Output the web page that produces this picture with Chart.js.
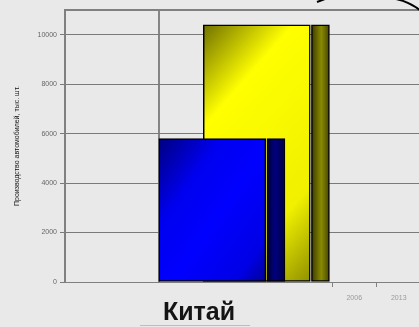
<!DOCTYPE html>
<html>
<head>
<meta charset="utf-8">
<script src="https://cdn.jsdelivr.net/npm/chart.js@4"></script>
<style>
  html, body { margin: 0; padding: 0; background: #e9e9e9; overflow: hidden; }
  #wrap { position: relative; width: 425px; height: 327px; }
  #title {
    position: absolute; left: 140px; top: 299px; width: 102px; padding-left: 8px;
    text-align: center; font: bold 25px/25px "Liberation Sans", Arial, sans-serif;
    color: #151515; border-bottom: 1px solid #bdbdbd; padding-bottom: 1px;
  }
  #deco { position: absolute; left: 0; top: 0; }
</style>
</head>
<body>
<div id="wrap">
  <canvas id="chart" width="425" height="327"></canvas>
  <div id="title">Китай</div>
  <svg id="deco" width="425" height="327">
    <path d="M317,2 L325,-1" stroke="#000" stroke-width="2" fill="none"/>
    <path d="M396,-1 Q410,2 421,11" stroke="#000" stroke-width="2" fill="none"/>
  </svg>
</div>
<script>
// Производство автомобилей в Китае, тыс. шт.
const years = ['2006', '2013'];
const production = [5800, 10400];
const yTicks = [0, 2000, 4000, 6000, 8000, 10000];
const emptySlots = 6;

const labels = Array(emptySlots).fill('').concat(years);

// bars sit shifted to the left of their year slot, as in the original picture
const barShift = 3.19;
const sideShift = 1.43;
const slot = i => emptySlots + i + 0.5 - barShift;

// gradient direction + colour stops for each bar face
const frontFill = [
  { dir: [0.82, 0.57], stops: [[0, '#000080'], [0.3, '#0000f0'], [0.55, '#0000ff'], [0.85, '#0000e6'], [1, '#00009a']] },
  { dir: [0.75, 0.66], stops: [[0, '#707000'], [0.27, '#ffff00'], [0.75, '#f0f000'], [1, '#909000']] }
];
const sideFill = [
  { dir: [1, 0], stops: [[0, '#000030'], [0.45, '#000080'], [1, '#000040']] },
  { dir: [1, 0], stops: [[0, '#3a3a00'], [0.55, '#8a8a00'], [1, '#454500']] }
];

function gradient(fill) {
  return function (c) {
    const chart = c.chart;
    if (!chart.chartArea || !c.raw) return fill.stops[1][1];
    const xs = chart.scales.xb, ys = chart.scales.y;
    const w = c.dataset.barThickness;
    const x0 = xs.getPixelForValue(c.raw.x) - w / 2;
    const y0 = ys.getPixelForValue(c.raw.y);
    const h = ys.getPixelForValue(0) - y0;
    const [ux, uy] = fill.dir;
    const len = w * ux + h * uy;
    const g = chart.ctx.createLinearGradient(x0, y0, x0 + len * ux, y0 + len * uy);
    fill.stops.forEach(s => g.addColorStop(s[0], s[1]));
    return g;
  };
}

const datasets = [];
years.forEach((y, i) => {
  datasets.push({
    label: y,
    xAxisID: 'xb',
    grouped: false,
    data: [{ x: slot(i), y: production[i] }],
    barThickness: 107,
    backgroundColor: gradient(frontFill[i]),
    borderColor: '#000',
    borderWidth: 1.5,
    borderSkipped: false
  });
  datasets.push({
    label: y + ' side',
    xAxisID: 'xb',
    grouped: false,
    data: [{ x: slot(i) + sideShift, y: production[i] }],
    barThickness: 18,
    backgroundColor: gradient(sideFill[i]),
    borderColor: '#000',
    borderWidth: 1.5,
    borderSkipped: false
  });
});

const small = { family: '"Liberation Sans", Arial, sans-serif', size: 7 };

new Chart(document.getElementById('chart'), {
  type: 'bar',
  data: { labels: labels, datasets: datasets },
  options: {
    responsive: false,
    animation: false,
    layout: { padding: { top: 10, right: 4, bottom: 0, left: 0 } },
    plugins: { legend: { display: false }, tooltip: { enabled: false } },
    scales: {
      x: {
        type: 'category',
        position: 'bottom',
        offset: true,
        afterFit: s => { s.height = 45; },
        grid: {
          offset: true,
          drawOnChartArea: false,
          tickLength: 5,
          color: c => (c.index === emptySlots || c.index === emptySlots + 1) ? '#808080' : 'rgba(0,0,0,0)'
        },
        border: { color: '#808080', width: 1 },
        ticks: { font: small, color: '#9a9a9a', padding: 7, autoSkip: false, maxRotation: 0 }
      },
      xb: {
        type: 'linear',
        position: 'top',
        min: 0,
        max: emptySlots + years.length,
        offset: false,
        afterFit: s => { s.height = 0; },
        afterBuildTicks: s => { s.ticks = [{ value: slot(0) - 1.2 }]; },
        grid: { offset: false, color: '#858585', lineWidth: 2, drawTicks: false },
        border: { color: '#808080', width: 2 },
        ticks: { display: false }
      },
      y: {
        min: 0,
        max: 11000,
        afterFit: s => { s.width = 65; },
        afterBuildTicks: s => { s.ticks = yTicks.map(v => ({ value: v })); },
        grid: { color: '#7a7a7a', lineWidth: 1, tickLength: 5 },
        border: { color: '#808080', width: 2 },
        ticks: { font: small, color: '#666', padding: 3, callback: v => String(v) },
        title: {
          display: true,
          text: 'Производство автомобилей, тыс. шт.',
          font: small,
          color: '#111',
          padding: { top: 13, bottom: 0 }
        }
      }
    }
  }
});
</script>
</body>
</html>
